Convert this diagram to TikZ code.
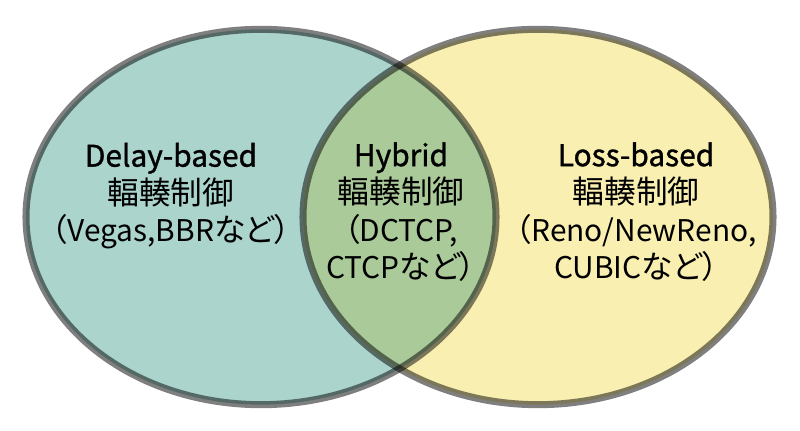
\documentclass[tikz,border=0pt]{standalone}
\usepackage{fontspec}
\setmainfont{Noto Sans CJK JP}
\newfontfamily\cjk[Scale=1.06,RawFeature=+palt]{Noto Sans CJK JP}
\newfontfamily\headfont[FakeBold=1.2]{Noto Sans CJK JP}
\usepackage{xcolor}
\usepackage{tikz}
\usetikzlibrary{positioning}

\definecolor{delayfill}{HTML}{AAD4CC}
\definecolor{lossfill}{HTML}{F9EFB1}
\definecolor{hybridfill}{HTML}{AACA9A}

\begin{document}
\begin{tikzpicture}[
x=0.03cm, y=-0.03cm,
rim/.style={draw=black, draw opacity=0.5, line width=6pt},
label/.style={align=center, inner sep=0pt, font=\fontsize{25.5}{32}\selectfont},
]
\useasboundingbox (0,0) rectangle (800,431);

%Set fills
\fill[delayfill] (261,217) ellipse [x radius=7.05cm, y radius=5.63cm];
\fill[lossfill] (538,217) ellipse [x radius=7.05cm, y radius=5.63cm];
\begin{scope}
\clip (261,217) ellipse [x radius=7.05cm, y radius=5.63cm];
\fill[hybridfill] (538,217) ellipse [x radius=7.05cm, y radius=5.63cm];
\end{scope}

%Set borders
\draw[rim] (261,217) ellipse [x radius=7.05cm, y radius=5.63cm];
\draw[rim] (538,217) ellipse [x radius=7.05cm, y radius=5.63cm];

%Labels
\node[label] (delay) at (171,196) {{\headfont Delay-based}\\{\cjk 輻輳制御}\\{\cjk （}Vegas,BBR{\cjk など）}};
\node[label] (hybrid) at (401,212) {{\headfont Hybrid}\\{\cjk 輻輳制御}\\{\cjk （}DCTCP,\\CTCP{\cjk など）}};
\node[label] (loss) at (636,212) {{\headfont Loss-based}\\{\cjk 輻輳制御}\\{\cjk （}Reno/NewReno,\\CUBIC{\cjk など）}};
\end{tikzpicture}
\end{document}
